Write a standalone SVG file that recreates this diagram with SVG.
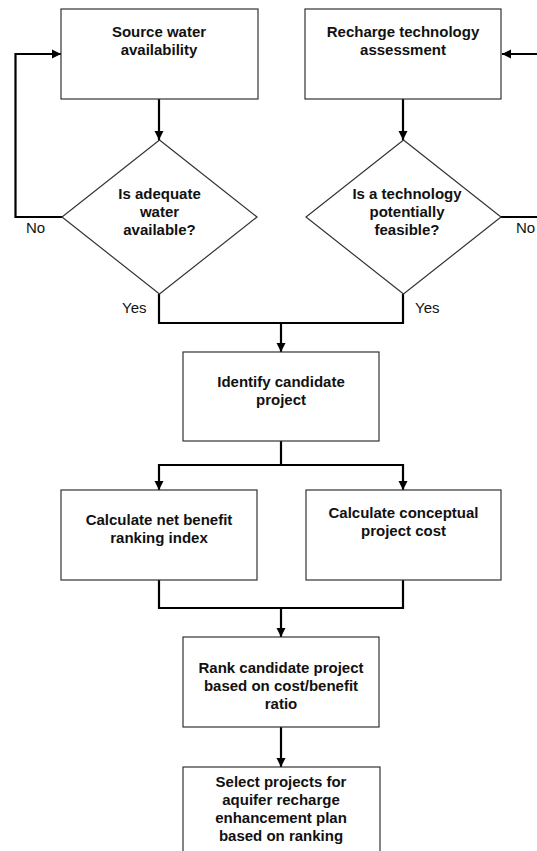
<svg xmlns="http://www.w3.org/2000/svg" width="537" height="851" viewBox="0 0 537 851">
<style>
.box{fill:#fff;stroke:#333;stroke-width:1.2}
.t{font-family:"Liberation Sans",Arial,sans-serif;font-size:15px;font-weight:bold;fill:#111;text-anchor:middle}
.l{font-family:"Liberation Sans",Arial,sans-serif;font-size:15px;fill:#111}
.c{fill:none;stroke:#000;stroke-width:2.2}
</style>
<defs>
<marker id="ah" markerUnits="userSpaceOnUse" markerWidth="10" markerHeight="10" refX="9" refY="5" orient="auto">
<path d="M0,0.5 L9,5 L0,9.5 Z" fill="#000"/>
</marker>
</defs>
<rect width="537" height="851" fill="#fff"/>
<g id="connectors">
<path class="c" d="M159,99 V140" marker-end="url(#ah)"/>
<path class="c" d="M403,99 V140" marker-end="url(#ah)"/>
<path class="c" d="M62,217 H15.5 V54 H61" marker-end="url(#ah)"/>
<path class="c" d="M501,217 H545 V54 H502" marker-end="url(#ah)"/>
<path class="c" d="M159,294 V323 H403 V294"/>
<path class="c" d="M281,323 V352" marker-end="url(#ah)"/>
<path class="c" d="M281,441 V465"/>
<path class="c" d="M159,465 H403"/>
<path class="c" d="M159,464 V490" marker-end="url(#ah)"/>
<path class="c" d="M403,464 V490" marker-end="url(#ah)"/>
<path class="c" d="M159,580 V608 H403 V580"/>
<path class="c" d="M281,608 V637" marker-end="url(#ah)"/>
<path class="c" d="M281,727 V767" marker-end="url(#ah)"/>
</g>
<g id="source">
<rect class="box" x="61" y="9" width="197" height="90"/>
<text class="t" x="159" y="37">Source water</text>
<text class="t" x="159" y="55">availability</text>
</g>
<g id="recharge">
<rect class="box" x="305" y="9" width="196" height="90"/>
<text class="t" x="403" y="37">Recharge technology</text>
<text class="t" x="403" y="55">assessment</text>
</g>
<g id="adequate">
<polygon class="box" points="159.5,140 257,217 159.5,294 62,217"/>
<text class="t" x="159.5" y="199">Is adequate</text>
<text class="t" x="159.5" y="217">water</text>
<text class="t" x="159.5" y="235">available?</text>
</g>
<g id="feasible">
<polygon class="box" points="403.5,140 501,217 403.5,294 306,217"/>
<text class="t" x="407" y="199">Is a technology</text>
<text class="t" x="407" y="217">potentially</text>
<text class="t" x="407" y="235">feasible?</text>
</g>
<g id="labels">
<text class="l" x="26" y="233">No</text>
<text class="l" x="516" y="233">No</text>
<text class="l" x="122" y="313">Yes</text>
<text class="l" x="415" y="313">Yes</text>
</g>
<g id="identify">
<rect class="box" x="183" y="352" width="196" height="89"/>
<text class="t" x="281" y="387">Identify candidate</text>
<text class="t" x="281" y="405">project</text>
</g>
<g id="benefit">
<rect class="box" x="61" y="490" width="196" height="90"/>
<text class="t" x="159" y="525">Calculate net benefit</text>
<text class="t" x="159" y="543">ranking index</text>
</g>
<g id="cost">
<rect class="box" x="306" y="490" width="195" height="90"/>
<text class="t" x="403.5" y="518">Calculate conceptual</text>
<text class="t" x="403.5" y="536">project cost</text>
</g>
<g id="rank">
<rect class="box" x="183" y="637" width="196" height="90"/>
<text class="t" x="281" y="673">Rank candidate project</text>
<text class="t" x="281" y="691">based on cost/benefit</text>
<text class="t" x="281" y="709">ratio</text>
</g>
<g id="select">
<rect class="box" x="183" y="767" width="197" height="100"/>
<text class="t" x="281" y="787">Select projects for</text>
<text class="t" x="281" y="805">aquifer recharge</text>
<text class="t" x="281" y="823">enhancement plan</text>
<text class="t" x="281" y="841">based on ranking</text>
</g>
</svg>
